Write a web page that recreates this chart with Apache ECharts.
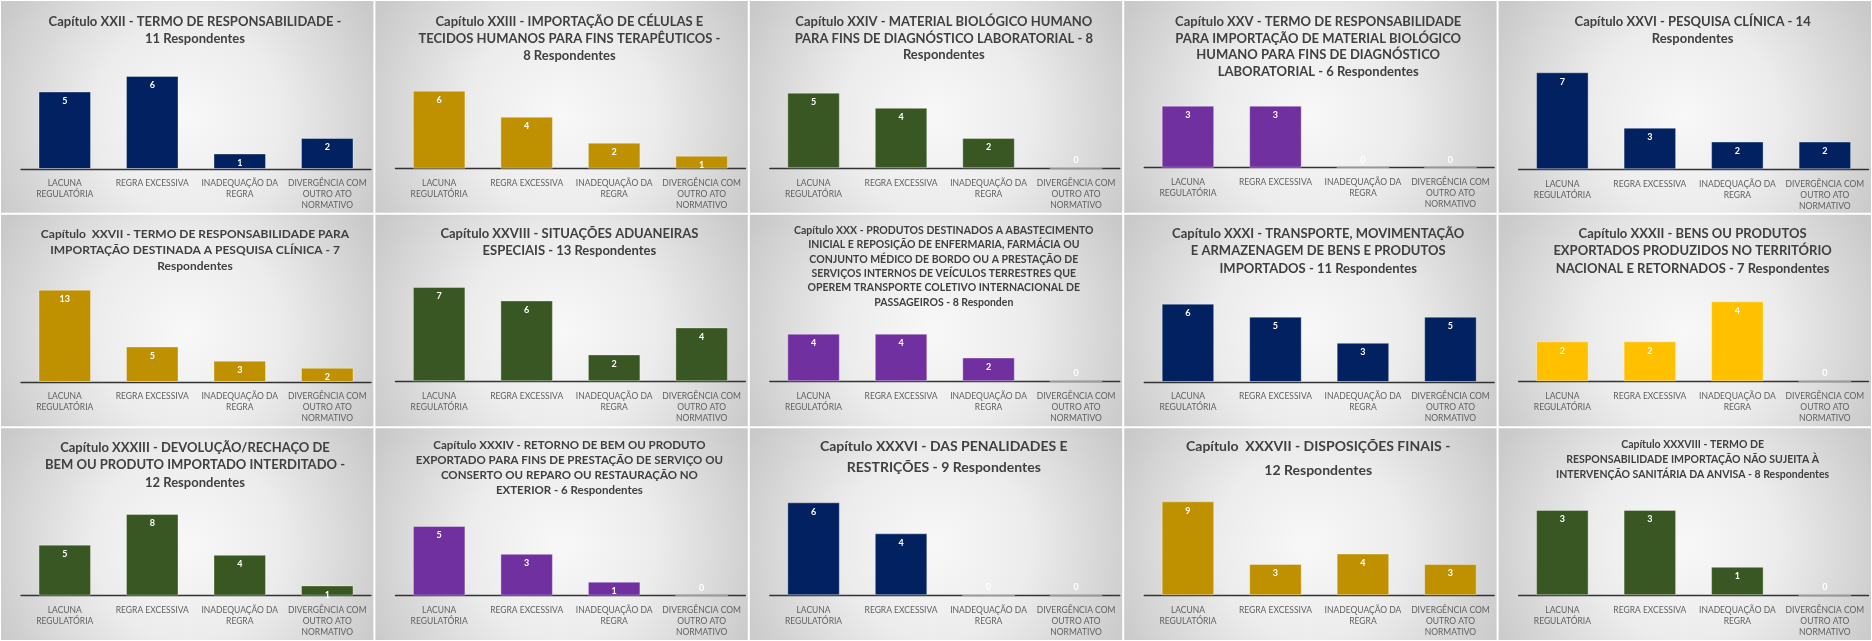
<!DOCTYPE html>
<html>
<head>
<meta charset="utf-8">
<script src="https://cdn.jsdelivr.net/npm/echarts@6/dist/echarts.min.js"></script>
<style>
html,body{margin:0;padding:0;background:#ffffff;}
#chart{width:1872px;height:641px;}
</style>
</head>
<body>
<div id="chart"></div>
<script>
// ---------- DATA ----------
const categories = ["LACUNA\nREGULATÓRIA", "REGRA EXCESSIVA", "INADEQUAÇÃO DA\nREGRA", "DIVERGÊNCIA COM\nOUTRO ATO\nNORMATIVO"];

const titles = [
  "Capítulo XXII - TERMO DE RESPONSABILIDADE -\n11 Respondentes",
  "Capítulo XXIII - IMPORTAÇÃO DE CÉLULAS E\nTECIDOS HUMANOS PARA FINS TERAPÊUTICOS -\n8 Respondentes",
  "Capítulo XXIV - MATERIAL BIOLÓGICO HUMANO\nPARA FINS DE DIAGNÓSTICO LABORATORIAL - 8\nRespondentes",
  "Capítulo XXV - TERMO DE RESPONSABILIDADE\nPARA IMPORTAÇÃO DE MATERIAL BIOLÓGICO\nHUMANO PARA FINS DE DIAGNÓSTICO\nLABORATORIAL - 6 Respondentes",
  "Capítulo XXVI - PESQUISA CLÍNICA - 14\nRespondentes",
  "Capítulo  XXVII - TERMO DE RESPONSABILIDADE PARA\nIMPORTAÇÃO DESTINADA A PESQUISA CLÍNICA - 7\nRespondentes",
  "Capítulo XXVIII - SITUAÇÕES ADUANEIRAS\nESPECIAIS - 13 Respondentes",
  "Capítulo XXX - PRODUTOS DESTINADOS A ABASTECIMENTO\nINICIAL E REPOSIÇÃO DE ENFERMARIA, FARMÁCIA OU\nCONJUNTO MÉDICO DE BORDO OU A PRESTAÇÃO DE\nSERVIÇOS INTERNOS DE VEÍCULOS TERRESTRES QUE\nOPEREM TRANSPORTE COLETIVO INTERNACIONAL DE\nPASSAGEIROS - 8 Responden",
  "Capítulo XXXI - TRANSPORTE, MOVIMENTAÇÃO\nE ARMAZENAGEM DE BENS E PRODUTOS\nIMPORTADOS - 11 Respondentes",
  "Capítulo XXXII - BENS OU PRODUTOS\nEXPORTADOS PRODUZIDOS NO TERRITÓRIO\nNACIONAL E RETORNADOS - 7 Respondentes",
  "Capítulo XXXIII - DEVOLUÇÃO/RECHAÇO DE\nBEM OU PRODUTO IMPORTADO INTERDITADO -\n12 Respondentes",
  "Capítulo XXXIV - RETORNO DE BEM OU PRODUTO\nEXPORTADO PARA FINS DE PRESTAÇÃO DE SERVIÇO OU\nCONSERTO OU REPARO OU RESTAURAÇÃO NO\nEXTERIOR - 6 Respondentes",
  "Capítulo XXXVI - DAS PENALIDADES E\nRESTRIÇÕES - 9 Respondentes",
  "Capítulo  XXXVII - DISPOSIÇÕES FINAIS -\n12 Respondentes",
  "Capítulo XXXVIII - TERMO DE\nRESPONSABILIDADE IMPORTAÇÃO NÃO SUJEITA À\nINTERVENÇÃO SANITÁRIA DA ANVISA - 8 Respondentes"
];

const capXXII    = [5, 6, 1, 2];
const capXXIII   = [6, 4, 2, 1];
const capXXIV    = [5, 4, 2, 0];
const capXXV     = [3, 3, 0, 0];
const capXXVI    = [7, 3, 2, 2];
const capXXVII   = [13, 5, 3, 2];
const capXXVIII  = [7, 6, 2, 4];
const capXXX     = [4, 4, 2, 0];
const capXXXI    = [6, 5, 3, 5];
const capXXXII   = [2, 2, 4, 0];
const capXXXIII  = [5, 8, 4, 1];
const capXXXIV   = [5, 3, 1, 0];
const capXXXVI   = [6, 4, 0, 0];
const capXXXVII  = [9, 3, 4, 3];
const capXXXVIII = [3, 3, 1, 0];

const seriesValues = [capXXII, capXXIII, capXXIV, capXXV, capXXVI, capXXVII, capXXVIII, capXXX,
  capXXXI, capXXXII, capXXXIII, capXXXIV, capXXXVI, capXXXVII, capXXXVIII];

// ---------- STYLE / LAYOUT ----------
const NAVY = '#022160', GOLD = '#BF9000', GREEN = '#385723', PURPLE = '#7030A0', YELLOW = '#FFC000';
const barColors = [NAVY, GOLD, GREEN, PURPLE, NAVY, GOLD, GREEN, PURPLE, NAVY, YELLOW, GREEN, PURPLE, NAVY, GOLD, GREEN];
// top of tallest bar & baseline, relative to panel top
const barTop   = [76, 90.7, 92.7, 105.7, 72.3, 76, 73.3, 120, 90, 87.7, 86.7, 98.7, 75, 74, 82.6];
const baseLine = [169, 168.7, 168.3, 167.7, 169.3, 168.3, 167.7, 167.7, 168.3, 167.7, 168.3, 168.3, 168, 168, 168];
const titleFont = [13, 13, 13, 13, 13, 12, 13, 10.5, 13, 13, 13, 11.5, 14, 14, 10.5];
const titleLH   = [17, 17, 16.6, 16.7, 17, 16, 17.6, 14.4, 17.5, 17.5, 17.5, 15, 21, 24, 15];
const titleC1   = [22, 21.7, 22, 21.7, 22, 20, 20, 16.7, 20, 20, 20, 18.3, 19.3, 19.3, 17];

const W = 1872, H = 641, PW = W / 5, PH = H / 3;
const FONT = 'Lato, "Open Sans", sans-serif';

const option = {
  animation: false,
  backgroundColor: '#ffffff',
  graphic: { elements: [] },
  title: [], grid: [], xAxis: [], yAxis: [], series: []
};

seriesValues.forEach((vals, i) => {
  const col = i % 5, row = Math.floor(i / 5);
  const px = col * PW, py = row * PH;
  option.graphic.elements.push({
    type: 'rect', z: -10, silent: true,
    shape: { x: px + 1, y: py + 1, width: PW - 2, height: PH - 2 },
    style: {
      fill: {
        type: 'radial', x: 0.5, y: 0.55, r: 1.0,
        colorStops: [
          { offset: 0, color: '#f8f8f8' },
          { offset: 0.45, color: '#ececec' },
          { offset: 1, color: '#c9c9c9' }
        ]
      }
    }
  });
  option.title.push({
    text: titles[i],
    left: px + 195,
    top: py + titleC1[i] - titleLH[i] / 2,
    textAlign: 'center',
    padding: 0,
    textStyle: {
      fontFamily: FONT, fontWeight: 'bold', color: '#404040',
      fontSize: titleFont[i], lineHeight: titleLH[i]
    }
  });
  option.grid.push({
    left: px + 21, width: 350,
    top: py + barTop[i], height: baseLine[i] - barTop[i],
    containLabel: false
  });
  option.xAxis.push({
    type: 'category', gridIndex: i, data: categories,
    axisTick: { show: false },
    axisLine: { lineStyle: { color: '#333333', width: 1.3 } },
    axisLabel: {
      interval: 0, color: '#606060', fontFamily: FONT, fontSize: 8.5,
      lineHeight: 11, margin: 9
    }
  });
  option.yAxis.push({
    type: 'value', gridIndex: i, min: 0, max: Math.max(...vals), show: false,
    splitLine: { show: false }
  });
  option.series.push({
    type: 'bar', xAxisIndex: i, yAxisIndex: i,
    barCategoryGap: '40%',
    itemStyle: { color: barColors[i], borderColor: 'rgba(255,255,255,0.35)', borderWidth: 1 },
    label: {
      show: true, position: 'insideTop', distance: 5, color: '#ffffff',
      fontFamily: FONT, fontWeight: 'bold', fontSize: 9
    },
    data: vals.map(v => v === 0 ? { value: 0, label: { position: 'top', distance: 3 } } : v)
  });
});

const chart = echarts.init(document.getElementById('chart'), null, { renderer: 'canvas' });
chart.setOption(option);
</script>
</body>
</html>
